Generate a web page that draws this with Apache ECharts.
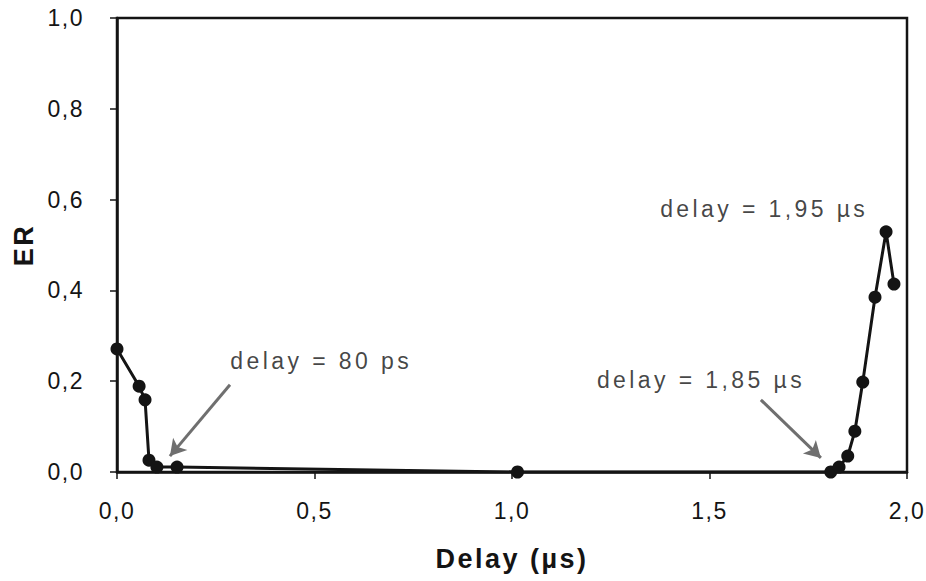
<!DOCTYPE html>
<html lang="en">
<head>
    <meta charset="utf-8">
    <title>ER vs Delay</title>
    <script type="text/javascript" src="https://cdn.jsdelivr.net/npm/echarts@6/dist/echarts.min.js"></script>
    <style>
        html, body, #main {
            width: 100%; height: 100%; margin: 0; padding: 0; overflow: hidden; background-color: #ffffff;
        }
    </style>
</head>
<body>
<div id="main"></div>

<script type="text/javascript">
    // data (delay in µs, ER)
    var delay = [0.000, 0.056, 0.071, 0.081, 0.101, 0.152, 1.014, 1.807, 1.828, 1.850, 1.868, 1.888, 1.919, 1.947, 1.967];
    var er    = [0.271, 0.189, 0.159, 0.026, 0.011, 0.011, 0.000, 0.000, 0.011, 0.035, 0.090, 0.198, 0.385, 0.529, 0.414];

    // text notes and their arrows
    var noteText = ["delay = 80 ps", "delay = 1,85 \u00b5s", "delay = 1,95 \u00b5s"];
    var noteX = [0.287, 1.215, 1.375];
    var noteY = [0.245, 0.203, 0.579];
    var arrowFrom = [[0.286, 0.192], [1.630, 0.159]];
    var arrowTo   = [[0.134, 0.035], [1.782, 0.031]];

    var ink = "#141414";
    var font = "Liberation Sans";

    function comma(v) {
        return v.toFixed(1).replace(".", ",");
    }

    var points = [];
    for (var i = 0; i < delay.length; i++) {
        points.push([delay[i], er[i]]);
    }
    var notes = [];
    for (var i = 0; i < noteText.length; i++) {
        notes.push([noteX[i], noteY[i], noteText[i]]);
    }
    var arrows = [];
    for (var i = 0; i < arrowFrom.length; i++) {
        arrows.push([{coord: arrowFrom[i]}, {coord: arrowTo[i]}]);
    }

    var chart = echarts.init(document.getElementById("main"), null, {renderer: "svg"});

    var option = {
        animation: false,
        backgroundColor: "#ffffff",
        grid: {
            left: 117, right: 19, top: 18, bottom: 109,
            show: true,
            borderColor: ink,
            borderWidth: 2.5
        },
        xAxis: {
            type: "value",
            min: 0, max: 2, interval: 0.5,
            name: "Delay (\u00b5s)",
            nameLocation: "middle",
            nameGap: 73,
            nameTextStyle: {fontFamily: font, fontSize: 27, fontWeight: "bold", color: ink},
            axisLine: {show: true, onZero: false, lineStyle: {color: ink, width: 2.5}},
            axisTick: {show: true, inside: false, length: 7, lineStyle: {color: ink, width: 1.5}},
            axisLabel: {margin: 27, fontFamily: font, fontSize: 23, color: ink, formatter: comma},
            splitLine: {show: false}
        },
        yAxis: {
            type: "value",
            min: 0, max: 1, interval: 0.2,
            name: "ER",
            nameLocation: "middle",
            nameRotate: 90,
            nameGap: 80,
            nameTextStyle: {fontFamily: font, fontSize: 27, fontWeight: "bold", color: ink},
            axisLine: {show: true, onZero: false, lineStyle: {color: ink, width: 2.5}},
            axisTick: {show: true, inside: false, length: 7, lineStyle: {color: ink, width: 1.5}},
            axisLabel: {margin: 33, fontFamily: font, fontSize: 23, color: ink, formatter: comma},
            splitLine: {show: false}
        },
        series: [
            {
                name: "ER",
                type: "line",
                data: points,
                symbol: "circle",
                symbolSize: 13,
                itemStyle: {color: ink},
                lineStyle: {color: ink, width: 3},
                markLine: {
                    silent: true,
                    symbol: ["none", "arrow"],
                    symbolSize: [14, 16],
                    label: {show: false},
                    lineStyle: {color: "#6f6f6f", width: 3, type: "solid"},
                    data: arrows
                }
            },
            {
                name: "notes",
                type: "scatter",
                data: notes,
                symbolSize: 0,
                silent: true,
                label: {
                    show: true,
                    position: "right",
                    distance: 0,
                    fontFamily: font,
                    fontSize: 23,
                    color: ink,
                    formatter: function(p) { return p.data[2]; }
                }
            }
        ]
    };

    chart.setOption(option);

    // the source figure uses widely spaced lettering
    function spaceLetters() {
        var texts = chart.getDom().querySelectorAll("text");
        for (var i = 0; i < texts.length; i++) {
            var t = texts[i].textContent;
            if (t.indexOf("delay") === 0) {
                texts[i].style.letterSpacing = "3.4px";
            } else if (t === "ER" || t.indexOf("Delay") === 0) {
                texts[i].style.letterSpacing = "2.5px";
            } else {
                texts[i].style.letterSpacing = "1.5px";
            }
        }
    }
    chart.on("finished", spaceLetters);
    spaceLetters();
</script>
</body>
</html>
